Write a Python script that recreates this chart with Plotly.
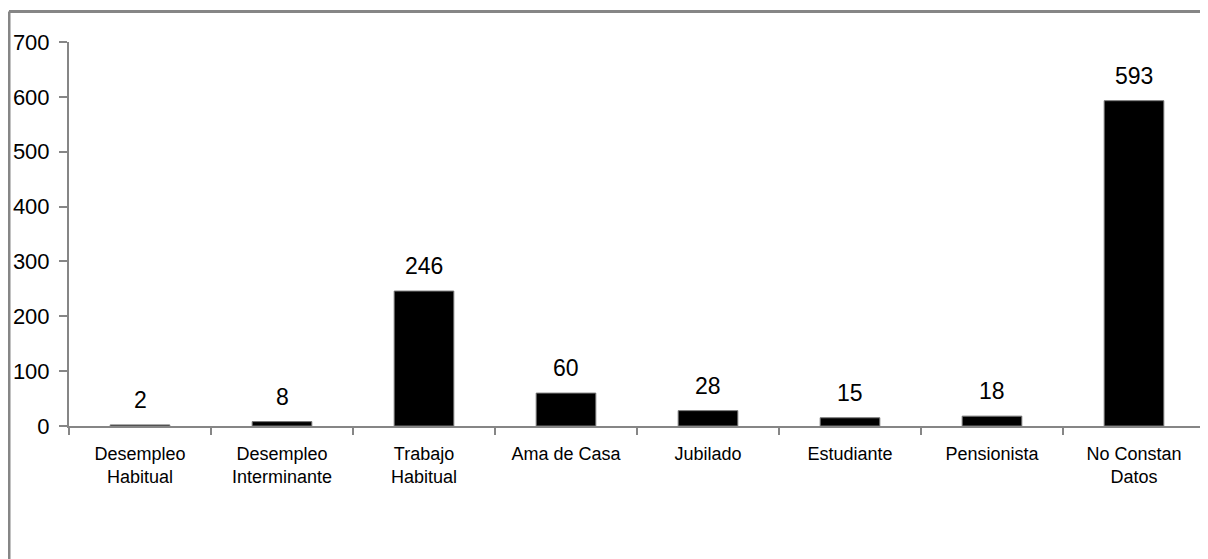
import plotly.graph_objects as go

categories = ["Desempleo<br>Habitual", "Desempleo<br>Interminante", "Trabajo<br>Habitual",
              "Ama de Casa", "Jubilado", "Estudiante", "Pensionista", "No Constan<br>Datos"]
values = [2, 8, 246, 60, 28, 15, 18, 593]
y_ticks = [0, 100, 200, 300, 400, 500, 600, 700]

FONT = "Liberation Sans, Arial, sans-serif"
W, H = 1200, 551
L, R, T, B = 61, 3, 34, 133
pw = W - L - R
ph = H - T - B

fig = go.Figure(go.Bar(
    x=categories, y=values,
    marker=dict(color="black", line=dict(color="#777777", width=1)),
    width=0.42,
))

for c, v in zip(categories, values):
    fig.add_annotation(
        x=c, y=v, text=str(v), showarrow=False,
        yanchor="bottom", yshift=10,
        font=dict(family=FONT, size=23, color="black"),
    )

bx0 = (1 - L) / pw
bx1 = (W + 20 - L) / pw
by0 = (T + ph - (H + 20)) / ph
by1 = (T + ph - 3.5) / ph
border = dict(color="#868686", width=3)

fig.update_layout(
    width=W, height=H,
    margin=dict(l=L, r=R, t=T, b=B, autoexpand=False),
    paper_bgcolor="white", plot_bgcolor="white",
    showlegend=False,
    font=dict(family=FONT, color="black"),
    xaxis=dict(
        showline=True, linecolor="#868686", linewidth=2,
        ticks="outside", tickcolor="#868686", ticklen=7, tickwidth=1.5,
        tickson="boundaries", showgrid=False,
        tickfont=dict(family=FONT, size=18, color="black"),
        ticklabelstandoff=10,
        range=[-0.5, 7.5],
    ),
    yaxis=dict(
        range=[0, 700], tickvals=y_ticks,
        showline=True, linecolor="#868686", linewidth=2,
        ticks="outside", tickcolor="#868686", ticklen=8, tickwidth=1.5,
        showgrid=False, zeroline=False,
        tickfont=dict(family=FONT, size=22, color="black"),
        ticklabelstandoff=5,
    ),
    shapes=[
        dict(type="line", xref="paper", yref="paper",
             x0=bx0, x1=bx1, y0=by1, y1=by1, line=border, layer="below"),
        dict(type="line", xref="paper", yref="paper",
             x0=bx0, x1=bx0, y0=by0, y1=by1, line=border, layer="below"),
    ],
)

fig.write_html("out.html")
